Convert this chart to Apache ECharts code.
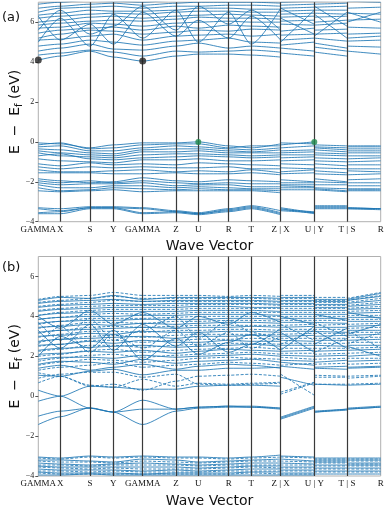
<!DOCTYPE html>
<html><head><meta charset="utf-8">
<script src="https://cdn.jsdelivr.net/npm/echarts@6/dist/echarts.min.js"></script>
<style>html,body{margin:0;padding:0;background:#fff}#c{width:386px;height:505px}</style>
</head><body><div id="c"></div>
<script>
// k-path positions (cumulative distance) and labels
const kPos = [0, 22, 51.7, 75, 104.4, 137.7, 160, 190.4, 213, 242.4, 276, 308.7, 342.4];
const kLabels = ['GAMMA', 'X', 'S', 'Y', 'GAMMA', 'Z', 'U', 'R', 'T', 'Z | X', 'U | Y', 'T | S', 'R'];
// each band: values at [G,X,S,Y,G,Z,U,R,T,Z | X,U | Y,T | S,R]
const sampleIdx = [0,1,2,3,4,5,6,7,8,9, 9,10, 10,11, 11,12];
const breakAt = [10, 12, 14];
const yTicks = [-4, -2, 0, 2, 4, 6];

// panel (a)
const aCond = [
 [4.10,4.30,4.55,4.25,4.05,4.30,4.40,4.40,4.35,4.25,4.45,4.30,4.50,4.30,4.55,4.40],
 [4.35,4.45,4.60,4.50,4.30,4.55,4.50,4.55,4.60,4.50,4.70,4.55,4.75,4.55,4.80,4.75],
 [4.55,4.70,4.90,4.65,4.60,4.80,4.95,4.70,4.80,4.70,4.85,5.00,4.95,4.70,5.05,5.10],
 [4.80,4.90,5.10,5.00,4.85,5.05,5.10,5.20,5.00,4.95,5.10,5.20,5.20,5.05,5.40,5.45],
 [5.10,5.15,5.30,5.40,5.10,5.30,5.35,5.40,5.30,5.40,5.35,5.40,5.40,5.45,5.75,5.70],
 [5.20,5.40,5.60,5.55,5.40,5.50,5.60,5.55,5.65,5.60,5.55,5.70,5.60,5.65,6.10,6.15],
 [5.45,5.60,5.70,5.75,5.60,5.80,5.70,5.85,5.80,5.75,5.90,5.85,5.85,5.95,6.45,6.40],
 [5.70,5.75,5.95,5.90,5.80,5.95,6.00,6.05,6.00,6.00,6.05,6.10,6.00,6.10,6.70,6.75],
 [5.85,5.95,6.05,6.10,6.05,6.15,6.25,6.20,6.20,6.15,6.25,6.30,6.25,6.30,7.05,7.00],
 [6.00,6.10,6.25,6.30,6.20,6.30,6.35,6.40,6.35,6.30,6.40,6.45,6.45,6.40,7.20,7.30],
 [6.20,6.30,6.40,6.45,6.40,6.50,6.55,6.55,6.50,6.50,6.55,6.60,6.60,6.60,7.40,7.40],
 [6.35,6.45,6.60,6.55,6.55,6.60,6.70,6.70,6.65,6.65,6.70,6.75,6.75,6.80,7.50,7.50],
 [6.50,6.70,6.75,6.80,6.70,6.80,6.80,6.85,6.85,6.80,6.85,6.90,6.90,6.95,7.60,7.60],
 [6.70,6.80,6.90,6.95,6.85,6.95,7.00,7.00,7.00,6.95,7.00,7.05,7.05,7.10,7.70,7.70],
 [6.90,7.00,7.10,7.05,7.00,7.10,7.15,7.10,7.15,7.10,7.15,7.20,7.20,7.20,7.80,7.80],
 [6.30,5.10,5.90,4.90,6.50,5.30,6.10,5.20,6.30,5.10,6.20,5.40,6.40,5.20,6.00,6.50],
 [5.00,6.20,4.80,6.40,5.20,6.60,5.00,6.50,4.90,6.70,5.00,6.60,5.30,6.50,6.50,6.00],
 [5.60,6.60,5.40,5.80,6.80,5.60,6.80,5.90,6.60,5.60,6.70,5.90,6.80,5.80,5.20,5.30]
];
const aVal = [
 [-0.05,-0.10,-0.30,-0.15,-0.05,-0.05,0.00,-0.20,-0.30,-0.10,-0.15,0.00,-0.15,-0.20,-0.20,-0.20],
 [-0.15,-0.05,-0.35,-0.30,-0.15,-0.10,-0.10,-0.30,-0.20,-0.20,-0.05,-0.10,-0.25,-0.30,-0.25,-0.25],
 [-0.25,-0.20,-0.45,-0.45,-0.30,-0.20,-0.25,-0.35,-0.40,-0.30,-0.30,-0.20,-0.30,-0.40,-0.35,-0.35],
 [-0.35,-0.40,-0.55,-0.60,-0.40,-0.35,-0.35,-0.45,-0.50,-0.40,-0.45,-0.40,-0.40,-0.50,-0.45,-0.45],
 [-0.45,-0.55,-0.65,-0.70,-0.50,-0.50,-0.45,-0.55,-0.55,-0.55,-0.55,-0.50,-0.55,-0.60,-0.55,-0.55],
 [-0.55,-0.70,-0.75,-0.80,-0.65,-0.60,-0.60,-0.65,-0.70,-0.65,-0.65,-0.65,-0.65,-0.70,-0.70,-0.70],
 [-0.70,-0.60,-0.85,-0.90,-0.80,-0.75,-0.70,-0.75,-0.80,-0.75,-0.80,-0.75,-0.80,-0.85,-0.85,-0.80],
 [-0.85,-0.95,-1.00,-1.05,-0.90,-0.90,-0.85,-0.95,-0.95,-0.90,-0.95,-0.90,-0.95,-1.00,-1.00,-0.95],
 [-1.10,-1.20,-1.05,-1.15,-1.10,-1.15,-1.05,-1.10,-1.15,-1.20,-1.10,-1.15,-1.10,-1.20,-1.15,-1.15],
 [-1.25,-1.35,-1.25,-1.30,-1.25,-1.30,-1.30,-1.25,-1.35,-1.35,-1.30,-1.35,-1.30,-1.35,-1.35,-1.35],
 [-1.40,-1.50,-1.50,-1.45,-1.40,-1.50,-1.45,-1.50,-1.40,-1.55,-1.50,-1.40,-1.45,-1.55,-1.45,-1.50],
 [-1.55,-1.55,-1.55,-1.60,-1.60,-1.55,-1.60,-1.60,-1.55,-1.65,-1.60,-1.55,-1.60,-1.65,-1.65,-1.60],
 [-1.85,-1.95,-2.05,-2.00,-1.80,-1.95,-2.00,-1.90,-1.95,-2.00,-1.90,-2.00,-1.85,-2.00,-1.90,-1.85],
 [-1.95,-2.05,-1.95,-2.05,-1.95,-2.05,-2.10,-2.05,-2.10,-2.10,-2.05,-2.05,-2.00,-2.05,-2.05,-2.05],
 [-2.05,-2.15,-2.10,-2.10,-2.05,-2.20,-2.15,-2.15,-2.25,-2.25,-2.15,-2.15,-2.15,-2.15,-2.20,-2.20],
 [-2.15,-2.30,-2.30,-2.20,-2.20,-2.30,-2.25,-2.30,-2.35,-2.35,-2.20,-2.25,-2.30,-2.35,-2.35,-2.35],
 [-2.30,-2.45,-2.40,-2.30,-2.35,-2.40,-2.35,-2.40,-2.40,-2.45,-2.30,-2.30,-2.35,-2.45,-2.40,-2.40],
 [-2.45,-2.50,-2.45,-2.40,-2.50,-2.45,-2.45,-2.45,-2.45,-2.55,-2.40,-2.40,-2.40,-2.50,-2.45,-2.45]
];
const aDeep = [
 [-3.30,-3.35,-3.25,-3.25,-3.30,-3.45,-3.55,-3.35,-3.20,-3.45,-3.30,-3.55,-3.20,-3.20,-3.30,-3.35],
 [-3.35,-3.45,-3.30,-3.30,-3.35,-3.50,-3.60,-3.40,-3.25,-3.55,-3.35,-3.60,-3.25,-3.25,-3.35,-3.35],
 [-3.55,-3.50,-3.30,-3.30,-3.55,-3.50,-3.60,-3.45,-3.30,-3.60,-3.40,-3.50,-3.30,-3.30,-3.30,-3.35],
 [-3.60,-3.60,-3.35,-3.35,-3.60,-3.55,-3.65,-3.50,-3.35,-3.65,-3.45,-3.55,-3.35,-3.35,-3.35,-3.40]
];
const aVbm = [[0, 4.10], [104.4, 4.05]];
const aCbm = [[160, 0.0], [276, 0.0]];

// panel (b)
const bSolid = [
 [0.30,0.00,0.50,0.45,0.35,0.35,0.50,0.55,0.55,0.50,0.95,0.55,0.60,0.55,0.55,0.60],
 [-0.25,0.00,-0.60,-0.80,-0.20,-0.65,-0.55,-0.50,-0.50,-0.60,-1.05,-0.50,-0.75,-0.65,-0.60,-0.50],
 [-1.00,-0.75,-0.60,-0.80,-0.65,-0.65,-0.55,-0.50,-0.55,-0.60,-1.10,-0.55,-0.80,-0.65,-0.65,-0.55],
 [-1.42,-1.03,-0.58,-0.80,-1.42,-0.75,-0.60,-0.55,-0.55,-0.65,-1.15,-0.60,-0.80,-0.70,-0.65,-0.55],
 [1.05,1.00,1.25,1.35,1.07,1.30,1.30,1.40,1.40,1.45,1.50,1.35,1.40,1.35,1.40,1.45],
 [1.40,1.55,1.30,1.45,1.60,1.35,1.50,1.60,1.55,1.40,1.70,1.55,1.45,1.50,1.45,1.50],
 [1.60,1.75,1.70,1.60,1.85,1.65,1.75,1.80,1.85,1.70,1.80,1.75,1.70,1.80,1.75,1.80],
 [1.85,1.95,1.95,1.90,2.05,1.95,2.00,2.05,2.10,2.00,2.05,2.00,2.00,2.05,2.00,2.10],
 [2.10,2.15,2.25,2.20,2.30,2.15,2.25,2.35,2.30,2.25,2.25,2.30,2.25,2.30,2.30,2.35],
 [2.30,2.40,2.45,2.50,2.55,2.45,2.50,2.55,2.60,2.50,2.55,2.55,2.55,2.50,2.55,2.55],
 [2.55,2.60,2.75,2.65,2.80,2.70,2.70,2.80,2.75,2.75,2.80,2.75,2.80,2.80,2.80,2.85],
 [2.75,2.85,2.90,2.95,3.00,2.90,3.00,3.00,3.05,3.00,3.00,3.05,3.00,3.05,3.05,3.10],
 [3.00,3.05,3.15,3.10,3.25,3.20,3.20,3.25,3.25,3.20,3.25,3.25,3.25,3.20,3.30,3.30],
 [3.20,3.30,3.35,3.40,3.45,3.40,3.45,3.45,3.50,3.45,3.45,3.50,3.45,3.45,3.50,3.55],
 [3.45,3.50,3.60,3.55,3.65,3.60,3.65,3.70,3.70,3.65,3.70,3.70,3.70,3.65,3.75,3.75],
 [3.65,3.75,3.80,3.80,3.85,3.85,3.85,3.90,3.90,3.85,3.90,3.90,3.90,3.90,3.95,3.95],
 [3.85,3.95,4.00,4.00,4.05,4.05,4.10,4.10,4.10,4.05,4.10,4.10,4.10,4.10,4.15,4.20],
 [4.05,4.15,4.20,4.25,4.25,4.25,4.30,4.30,4.30,4.25,4.30,4.30,4.30,4.30,4.35,4.40],
 [4.25,4.35,4.40,4.45,4.45,4.45,4.50,4.50,4.45,4.45,4.50,4.50,4.45,4.45,4.50,4.60],
 [4.45,4.55,4.60,4.65,4.60,4.65,4.65,4.65,4.65,4.60,4.65,4.65,4.60,4.60,4.65,4.80],
 [4.65,4.75,4.80,4.85,4.75,4.80,4.80,4.80,4.80,4.75,4.80,4.80,4.75,4.75,4.80,5.00],
 [4.80,4.95,4.90,5.05,4.85,4.95,4.95,4.95,4.95,4.90,4.95,4.95,4.85,4.85,4.85,5.15],
 [2.00,3.00,2.40,3.30,1.80,2.90,2.10,2.70,3.10,2.30,3.20,2.20,2.60,3.40,2.50,2.00],
 [3.30,2.40,3.60,2.30,3.60,2.50,3.20,2.20,2.60,3.40,2.30,3.50,3.30,2.40,3.10,3.60],
 [4.00,3.40,4.30,3.60,4.20,3.40,4.00,3.60,4.20,3.70,4.00,3.60,4.10,3.80,4.20,3.90],
 [-3.05,-3.10,-3.00,-3.05,-3.00,-3.05,-3.05,-3.10,-3.05,-2.95,-3.00,-3.05,-3.10,-3.10,-3.10,-3.10],
 [-3.20,-3.20,-3.25,-3.30,-3.15,-3.20,-3.30,-3.25,-3.20,-3.15,-3.15,-3.25,-3.20,-3.20,-3.20,-3.20],
 [-3.35,-3.40,-3.45,-3.40,-3.35,-3.40,-3.45,-3.40,-3.35,-3.35,-3.35,-3.40,-3.30,-3.30,-3.35,-3.35],
 [-3.50,-3.55,-3.55,-3.55,-3.55,-3.55,-3.60,-3.55,-3.50,-3.50,-3.55,-3.55,-3.45,-3.45,-3.45,-3.45],
 [-3.65,-3.70,-3.70,-3.70,-3.75,-3.70,-3.75,-3.70,-3.65,-3.65,-3.70,-3.70,-3.60,-3.60,-3.60,-3.60],
 [-3.80,-3.85,-3.85,-3.85,-3.90,-3.85,-3.85,-3.85,-3.80,-3.80,-3.85,-3.85,-3.75,-3.75,-3.75,-3.75],
 [-3.95,-3.95,-3.90,-3.95,-3.95,-3.95,-3.95,-3.95,-3.95,-3.95,-3.95,-3.95,-3.90,-3.90,-3.90,-3.90]
];
const bDashed = [
 [1.17,1.00,0.50,0.60,0.30,0.75,1.00,1.05,1.10,1.00,0.10,0.67,1.05,1.00,1.00,1.05],
 [0.67,1.00,0.55,0.45,0.85,0.50,0.65,0.60,0.65,0.70,0.20,0.70,0.95,0.95,0.90,1.00],
 [0.90,1.10,1.20,1.20,0.95,1.10,0.60,0.55,0.60,0.65,1.10,0.05,0.60,0.60,0.60,0.65],
 [1.30,1.45,1.55,1.70,1.45,1.55,1.60,1.70,1.65,1.55,1.55,1.65,1.60,1.65,1.60,1.65],
 [1.55,1.70,1.85,1.80,1.70,1.80,1.90,1.95,1.90,1.85,1.95,1.85,1.85,1.90,1.90,1.90],
 [1.75,1.90,2.05,2.10,1.95,2.05,2.10,2.15,2.20,2.10,2.15,2.15,2.10,2.15,2.15,2.20],
 [2.00,2.10,2.30,2.35,2.20,2.30,2.35,2.40,2.45,2.35,2.40,2.40,2.40,2.40,2.40,2.45],
 [2.25,2.35,2.55,2.55,2.45,2.55,2.60,2.65,2.65,2.60,2.65,2.65,2.65,2.65,2.70,2.70],
 [2.50,2.60,2.80,2.80,2.70,2.80,2.85,2.85,2.90,2.85,2.90,2.90,2.90,2.90,2.95,2.95],
 [2.70,2.85,3.00,3.05,2.95,3.05,3.10,3.10,3.10,3.10,3.10,3.15,3.15,3.15,3.20,3.20],
 [2.95,3.10,3.25,3.25,3.20,3.30,3.30,3.35,3.35,3.30,3.35,3.35,3.35,3.35,3.40,3.45],
 [3.15,3.30,3.45,3.50,3.45,3.50,3.55,3.55,3.55,3.55,3.55,3.60,3.55,3.60,3.60,3.65],
 [3.40,3.55,3.70,3.70,3.65,3.75,3.75,3.80,3.80,3.75,3.80,3.80,3.80,3.80,3.85,3.85],
 [3.60,3.75,3.90,3.90,3.90,3.95,4.00,4.00,4.00,4.00,4.00,4.00,4.00,4.00,4.05,4.05],
 [3.85,3.95,4.10,4.15,4.10,4.15,4.20,4.20,4.20,4.20,4.20,4.20,4.20,4.20,4.25,4.30],
 [4.05,4.20,4.30,4.35,4.35,4.35,4.40,4.40,4.40,4.40,4.40,4.40,4.40,4.40,4.40,4.50],
 [4.30,4.40,4.50,4.55,4.55,4.55,4.60,4.60,4.60,4.55,4.60,4.60,4.55,4.55,4.55,4.70],
 [4.50,4.60,4.70,4.80,4.75,4.75,4.75,4.75,4.75,4.70,4.75,4.75,4.70,4.70,4.70,4.90],
 [4.70,4.80,4.90,5.00,4.90,4.90,4.90,4.90,4.90,4.85,4.90,4.90,4.80,4.80,4.80,5.05],
 [4.85,5.00,5.05,5.20,5.05,5.05,5.05,5.00,5.05,5.00,5.05,5.05,4.95,4.95,4.90,5.20],
 [2.60,3.50,2.20,3.10,2.40,3.30,2.50,3.20,2.40,3.00,2.60,3.30,2.20,2.90,3.30,2.40],
 [3.70,2.80,3.90,2.80,3.30,4.00,2.90,3.80,3.20,2.80,3.60,2.80,3.70,3.00,2.60,3.20],
 [-3.10,-3.15,-3.05,-3.10,-3.05,-3.10,-3.10,-3.15,-3.10,-3.05,-3.05,-3.10,-3.15,-3.15,-3.15,-3.15],
 [-3.25,-3.30,-3.30,-3.35,-3.25,-3.30,-3.35,-3.30,-3.25,-3.25,-3.25,-3.30,-3.25,-3.25,-3.25,-3.25],
 [-3.45,-3.45,-3.50,-3.45,-3.45,-3.45,-3.50,-3.45,-3.45,-3.45,-3.45,-3.45,-3.35,-3.35,-3.40,-3.40],
 [-3.55,-3.60,-3.65,-3.60,-3.65,-3.65,-3.65,-3.60,-3.55,-3.60,-3.60,-3.60,-3.50,-3.50,-3.50,-3.50],
 [-3.75,-3.75,-3.80,-3.75,-3.80,-3.80,-3.80,-3.75,-3.75,-3.75,-3.75,-3.75,-3.65,-3.65,-3.65,-3.65],
 [-3.85,-3.90,-3.90,-3.90,-3.90,-3.90,-3.90,-3.90,-3.85,-3.90,-3.90,-3.90,-3.80,-3.80,-3.80,-3.80]
];

function bandData(bands) {
  const out = [];
  bands.forEach(b => {
    b.forEach((v, i) => {
      const x = kPos[sampleIdx[i]];
      if (i === 0 || breakAt.includes(i)) out.push([x, '-']);
      out.push([x, v]);
    });
  });
  return out;
}

const BLUE = '#1f77b4';
const chart = echarts.init(document.getElementById('c'), null, {renderer: 'canvas'});
const grids = [
  {left: 38.3, top: 2.2, width: 342.4, height: 219.5, show: true, borderColor: '#b0b0b0', borderWidth: 1, containLabel: false, outerBoundsMode: 'none'},
  {left: 38.3, top: 256.5, width: 342.4, height: 219.5, show: true, borderColor: '#b0b0b0', borderWidth: 1, containLabel: false, outerBoundsMode: 'none'}
];
function xAxis(i) {
  return {
    type: 'value', gridIndex: i, min: 0, max: kPos[kPos.length - 1],
    name: 'Wave Vector', nameLocation: 'middle', nameGap: 18, nameMoveOverlap: false,
    nameTextStyle: {fontFamily: 'DejaVu Sans', fontSize: 14, color: '#111'},
    axisLine: {show: false}, splitLine: {show: false},
    axisTick: {show: false},
    axisLabel: {
      customValues: kPos, margin: 3,
      fontFamily: 'Liberation Serif', fontSize: 9, color: '#111',
      formatter: v => { const k = kPos.findIndex(p => Math.abs(p - v) < 1e-6); return k >= 0 ? kLabels[k] : ''; }
    }
  };
}
function yAxis(i) {
  return {
    type: 'value', gridIndex: i, min: -4, max: 7,
    name: '{a|E  −  E}{s|f}{a| (eV)}', nameLocation: 'middle', nameGap: 14, nameRotate: 90,
    nameMoveOverlap: false,
    nameTextStyle: {
      color: '#111',
      rich: {
        a: {fontFamily: 'DejaVu Sans', fontSize: 14, color: '#111'},
        s: {fontFamily: 'DejaVu Sans', fontSize: 10, color: '#111', padding: [7, 0, 0, 0]}
      }
    },
    axisLine: {show: false}, splitLine: {show: false},
    axisTick: {show: true, length: 3, customValues: yTicks, lineStyle: {color: '#555'}},
    axisLabel: {
      customValues: yTicks, margin: 4,
      fontFamily: 'Liberation Serif', fontSize: 8, color: '#222',
      formatter: v => v < 0 ? '−' + Math.abs(v) : String(v)
    }
  };
}
function lineSeries(i, bands, dashed) {
  return {
    type: 'line', xAxisIndex: i, yAxisIndex: i, data: bandData(bands),
    showSymbol: false, symbol: 'none', smooth: 0.25, smoothMonotone: 'x', connectNulls: false, clip: true,
    lineStyle: {color: BLUE, width: 1, opacity: 0.85, type: dashed ? [3, 1.6] : 'solid'},
    animation: false, silent: true, z: 2
  };
}
function vLines(i) {
  return {
    type: 'line', xAxisIndex: i, yAxisIndex: i, data: [], silent: true, animation: false,
    markLine: {
      symbol: 'none', silent: true, animation: false, label: {show: false},
      lineStyle: {color: '#3a3a3a', width: 1.2, type: 'solid'},
      data: kPos.slice(1, -1).map(p => ({xAxis: p}))
    }, z: 3
  };
}
const option = {
  backgroundColor: '#fff',
  animation: false,
  title: [
    {text: '(a)', left: 2, top: 11, padding: 0, textStyle: {fontFamily: 'DejaVu Sans', fontSize: 13, fontWeight: 'normal', color: '#111'}},
    {text: '(b)', left: 2, top: 261, padding: 0, textStyle: {fontFamily: 'DejaVu Sans', fontSize: 13, fontWeight: 'normal', color: '#111'}}
  ],
  grid: grids,
  xAxis: [xAxis(0), xAxis(1)],
  yAxis: [yAxis(0), yAxis(1)],
  series: [
    lineSeries(0, aCond, false),
    lineSeries(0, aVal, false),
    lineSeries(0, aDeep, false),
    vLines(0),
    {type: 'scatter', xAxisIndex: 0, yAxisIndex: 0, data: aVbm, symbolSize: 7, clip: false,
     itemStyle: {color: '#222'}, z: 5, animation: false, silent: true},
    {type: 'scatter', xAxisIndex: 0, yAxisIndex: 0, data: aCbm, symbolSize: 6, clip: false,
     itemStyle: {color: '#1f8a4c'}, z: 5, animation: false, silent: true},
    lineSeries(1, bSolid, false),
    lineSeries(1, bDashed, true),
    vLines(1)
  ]
};
chart.setOption(option);
</script>
</body></html>
